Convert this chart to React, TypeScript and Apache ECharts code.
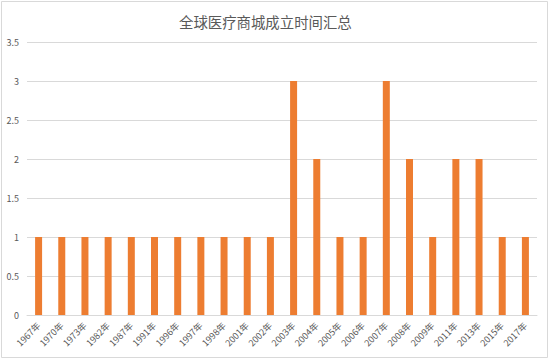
import React, { useEffect, useRef } from "react";
import * as echarts from "echarts";

const categories = ["1967年", "1970年", "1973年", "1982年", "1987年", "1991年", "1996年", "1997年", "1998年", "2001年", "2002年", "2003年", "2004年", "2005年", "2006年", "2007年", "2008年", "2009年", "2011年", "2013年", "2015年", "2017年"];
const counts = [1, 1, 1, 1, 1, 1, 1, 1, 1, 1, 1, 3, 2, 1, 1, 3, 2, 1, 2, 2, 1, 1];
const titleText = "全球医疗商城成立时间汇总";

export default function App() {
  const ref = useRef<HTMLDivElement>(null);
  useEffect(() => {
    if (!ref.current) return;
    const chart = echarts.init(ref.current, undefined, { renderer: "svg" });
    const font = "'Noto Sans CJK SC', 'Microsoft YaHei', sans-serif";
    chart.setOption({
      animation: false,
      backgroundColor: "#ffffff",
      title: {
        text: titleText,
        left: 174,
        top: 9,
        textStyle: { fontSize: 14.4, fontWeight: "normal", color: "#595959", fontFamily: font },
      },
      graphic: [
        {
          type: "rect",
          shape: { x: 1.5, y: 1.5, width: 546, height: 356 },
          style: { fill: "none", stroke: "#d9d9d9", lineWidth: 1 },
          silent: true,
        },
      ],
      grid: { left: 27, right: 13, top: 42, bottom: 46, containLabel: false },
      xAxis: {
        type: "category",
        data: categories,
        axisLine: { lineStyle: { color: "#d9d9d9" } },
        axisTick: { show: false },
        axisLabel: {
          rotate: 45,
          interval: 0,
          fontSize: 9,
          color: "#595959",
          fontFamily: font,
          margin: 9,
        },
      },
      yAxis: {
        type: "value",
        min: 0,
        max: 3.5,
        interval: 0.5,
        axisLine: { show: false },
        axisTick: { show: false },
        splitLine: { lineStyle: { color: "#d9d9d9" } },
        axisLabel: { fontSize: 9, color: "#595959", fontFamily: font, margin: 8 },
      },
      series: [
        {
          type: "bar",
          data: counts,
          barWidth: 7,
          itemStyle: { color: "#ED7D31" },
        },
      ],
    });
    return () => chart.dispose();
  }, []);
  return (
    <div
      ref={ref}
      style={{ position: "fixed", left: 0, top: 0, width: 550, height: 361 }}
    />
  );
}
